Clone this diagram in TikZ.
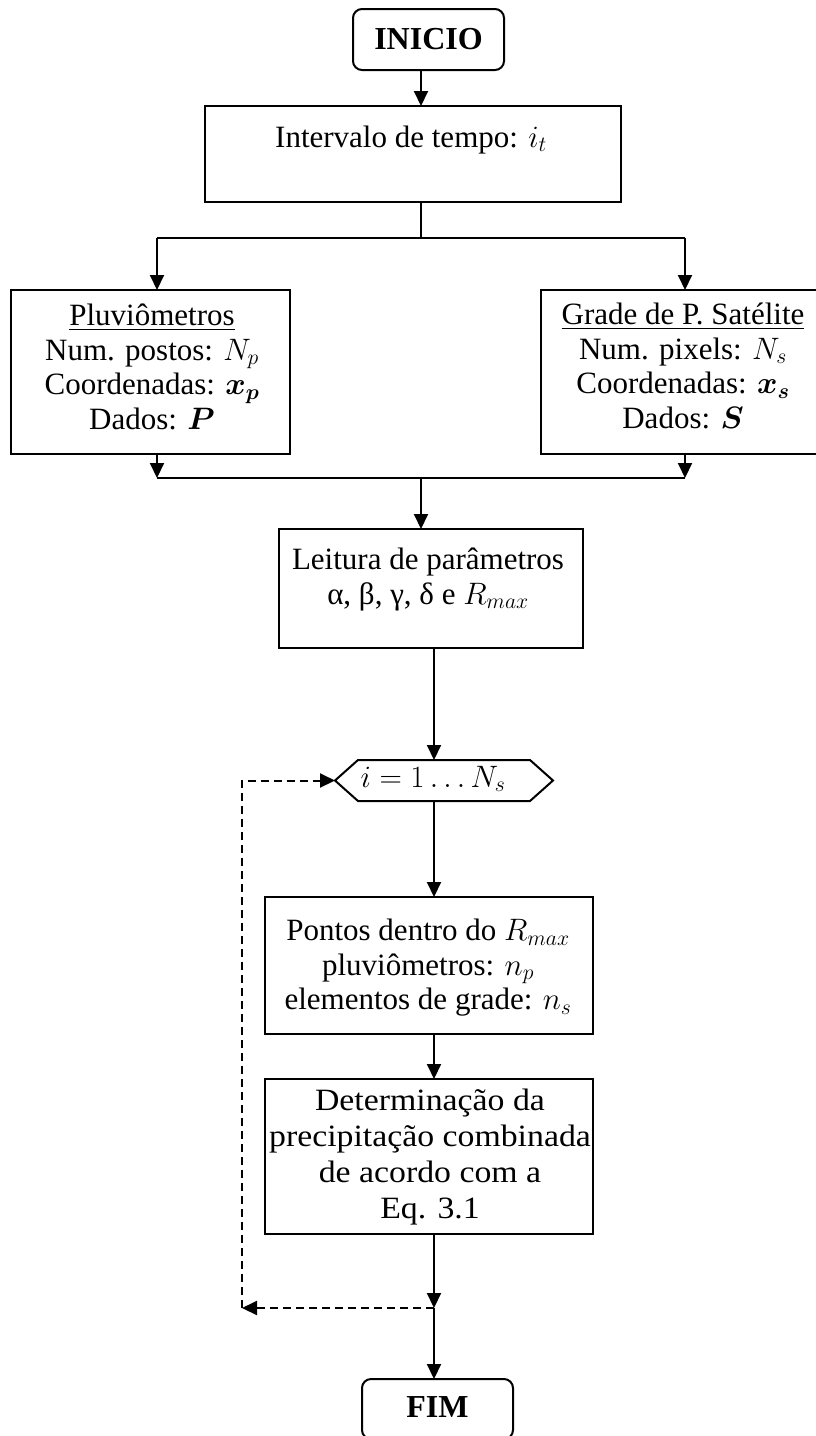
\RequirePackage{fix-cm}
\documentclass[tikz,border=0pt]{standalone}
\usepackage{fontspec}
\usepackage{amsmath}
\setmainfont{Liberation Serif}
\usetikzlibrary{arrows.meta}

\begin{document}
\begin{tikzpicture}[x=1pt,y=-1pt,
  every node/.style={inner sep=0pt, outer sep=0pt},
  box/.style={draw, line width=2pt, rectangle},
  term/.style={draw, line width=2pt, rounded corners=9pt,
    font=\fontsize{32}{36}\selectfont\bfseries},
  txt/.style={align=center, font=\fontsize{31}{34.5}\selectfont},
  arr/.style={line width=2pt, -{Triangle[length=15pt,width=14pt]}},
  link/.style={line width=2pt},
  back/.style={line width=2pt, dash pattern=on 8pt off 5pt,
    -{Triangle[length=15pt,width=14pt]}}]

\useasboundingbox (0,0) rectangle (816,1436);

% start / end terminals
\node[term, minimum width=151, minimum height=61] (ini) at (428.5,39.5) {INICIO};
\node[term, minimum width=151, minimum height=60] (fim) at (437.5,1409) {};
\node[font=\fontsize{32}{36}\selectfont\bfseries, anchor=base] (fimT) at (437.5,1417) {FIM};

% time interval
\node[box, minimum width=416, minimum height=96] (int) at (413,154) {};
\node[txt, anchor=base] (intT) at (411,147) {Intervalo de tempo: $i_t$};

% the two data sources
\node[box, minimum width=279, minimum height=164] (pluv) at (150.5,372) {};
\node[txt, anchor=north] (pluvT) at (152,304)
  {\underline{Pluviômetros}\\ Num. postos: $N_p$\\ Coordenadas: $\boldsymbol{x_p}$\\ Dados: $\boldsymbol{P}$};
\node[box, minimum width=284, minimum height=164] (sat) at (683,372) {};
\node[txt, anchor=north] (satT) at (683,303)
  {\underline{Grade de P. Satélite}\\ Num. pixels: $N_s$\\ Coordenadas: $\boldsymbol{x_s}$\\ Dados: $\boldsymbol{S}$};

% parameters
\node[box, minimum width=304, minimum height=119] (leit) at (431,588.5) {};
\node[txt, anchor=north] (leitT) at (428,548)
  {Leitura de parâmetros\\ α, β, γ, δ e $R_{max}$};

% loop over pixels
\node[minimum width=218, minimum height=41] (loop) at (444,780.5) {};
\draw[line width=2pt] (loop.west) -- ([xshift=23pt]loop.north west)
  -- ([xshift=-23pt]loop.north east) -- (loop.east)
  -- ([xshift=-23pt]loop.south east) -- ([xshift=23pt]loop.south west) -- cycle;
\node[txt, anchor=base] (loopT) at (433,787) {$i = 1 \ldots N_s$};

% neighbourhood and combination
\node[box, minimum width=328, minimum height=137] (pont) at (429,965.5) {};
\node[txt, anchor=north] (pontT) at (428,919)
  {Pontos dentro do $R_{max}$\\ pluviômetros: $n_p$\\ elementos de grade: $n_s$};
\node[box, minimum width=328, minimum height=155] (det) at (429,1156.5) {};
\begin{scope}[shift={(430,1089)}, xscale=1.09]
  \node[txt, anchor=north, transform shape, font=\fontsize{31}{36}\selectfont] (detT) at (0,0)
    {Determinação da\\ precipitação combinada\\ de acordo com a\\ Eq. 3.1};
\end{scope}

% junction points
\coordinate (brTop) at (421,238);
\coordinate (brL) at (157,238);
\coordinate (brR) at (685,238);
\coordinate (jnL) at (157,478);
\coordinate (jnR) at (685,478);
\coordinate (jnC) at (421,478);
\coordinate (junc) at (434,1308);
\coordinate (corner) at (242,1308);

% main flow
\draw[arr] (ini.south -| brTop) -- (int.north -| brTop);
\draw[link] (int.south -| brTop) -- (brTop);
\draw[link] (brL) -- (brR);
\draw[arr] (brL) -- (pluv.north -| brL);
\draw[arr] (brR) -- (sat.north -| brR);
\draw[arr] (pluv.south -| jnL) -- (jnL);
\draw[arr] (sat.south -| jnR) -- (jnR);
\draw[link] (jnL) -- (jnR);
\draw[arr] (jnC) -- (leit.north -| jnC);
\draw[arr] (leit.south -| junc) -- (loop.north -| junc);
\draw[arr] (loop.south -| junc) -- (pont.north -| junc);
\draw[arr] (pont.south -| junc) -- (det.north -| junc);
\draw[arr] (det.south -| junc) -- (junc);
\draw[arr] (junc) -- (fim.north -| junc);

% loop return
\draw[back] (junc) -- (corner);
\draw[back] (corner) |- (loop.west);

\end{tikzpicture}
\end{document}
